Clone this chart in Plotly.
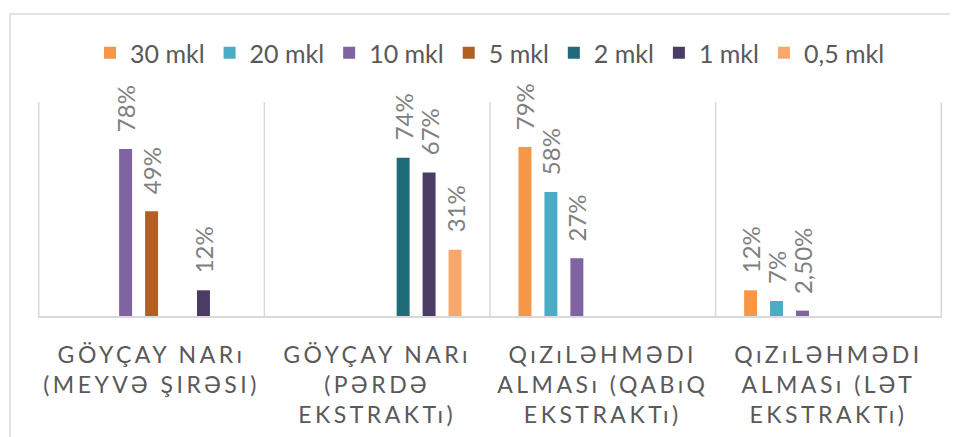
import plotly.graph_objects as go

categories = ["cat1", "cat2", "cat3", "cat4"]
tick_labels = [
    ["GÖYÇAY NARı", "(MEYVƏ ŞIRƏSI)"],
    ["GÖYÇAY NARı", "(PƏRDƏ", "EKSTRAKTı)"],
    ["QıZıLƏHMƏDI", "ALMASı (QABıQ", "EKSTRAKTı)"],
    ["QıZıLƏHMƏDI", "ALMASı (LƏT", "EKSTRAKTı)"],
]
series_names = ["30 mkl", "20 mkl", "10 mkl", "5 mkl", "2 mkl", "1 mkl", "0,5 mkl"]
s30 = [None, None, 0.79, 0.12]
s20 = [None, None, 0.58, 0.07]
s10 = [0.78, None, 0.27, 0.025]
s5 = [0.49, None, None, None]
s2 = [None, 0.74, None, None]
s1 = [0.12, 0.67, None, None]
s05 = [None, 0.31, None, None]
label_30 = [None, None, "79%", "12%"]
label_20 = [None, None, "58%", "7%"]
label_10 = ["78%", None, "27%", "2,50%"]
label_5 = ["49%", None, None, None]
label_2 = [None, "74%", None, None]
label_1 = ["12%", "67%", None, None]
label_05 = [None, "31%", None, None]

values = [s30, s20, s10, s5, s2, s1, s05]
labels = [label_30, label_20, label_10, label_5, label_2, label_1, label_05]
colors = ["#F79646", "#4BACC6", "#8064A2", "#B35E24", "#206B78", "#4A3C64", "#F9A86D"]

FONT = "Lato, 'Open Sans', sans-serif"

# layout geometry (style); page body has an 8px margin
PAGE_OFF = 8
W, H = 958 - PAGE_OFF, 437 - PAGE_OFF
ML, MR, MT = 38 - PAGE_OFF, 16, 102 - PAGE_OFF
PLOT_H = 214
MB = H - MT - PLOT_H
PLOT_W = W - ML - MR
BARGAP = 0.195
n_series = len(series_names)
cat_px = PLOT_W / len(categories)
slot_px = cat_px * (1 - BARGAP) / n_series

fig = go.Figure()
annotations = []
for i, (name, vals, labs, col) in enumerate(zip(series_names, values, labels, colors)):
    fig.add_trace(go.Bar(
        x=categories, y=vals, name=name, marker=dict(color=col, line=dict(width=0)),
        hoverinfo="skip",
    ))
    for c, v, t in zip(categories, vals, labs):
        if v is None or t is None:
            continue
        annotations.append(dict(
            x=c, y=v, xref="x", yref="y", text=t, showarrow=False,
            textangle=-90, xanchor="center", yanchor="bottom",
            xshift=(i - (n_series - 1) / 2) * slot_px, yshift=15,
            font=dict(family=FONT, size=24, color="#7F7F7F"),
        ))

ticktext = [
    "<br>".join('<span style="letter-spacing:3.5px">%s</span>' % line for line in lines)
    for lines in tick_labels
]

shapes = []
for b in [-0.5, 0.5, 1.5, 2.5, 3.5]:
    shapes.append(dict(type="line", xref="x", yref="paper", x0=b, x1=b, y0=0, y1=1,
                       line=dict(color="#D9D9D9", width=1.5), layer="below"))
# outer chart-area border (starts at page x=10, y=14)
shapes.append(dict(type="rect", xref="paper", yref="paper",
                   x0=(10 - PAGE_OFF - ML) / PLOT_W, x1=(W + 4 - ML) / PLOT_W,
                   y0=-1.0, y1=(MT + PLOT_H - (14 - PAGE_OFF)) / PLOT_H,
                   line=dict(color="#D9D9D9", width=1.5), fillcolor="rgba(0,0,0,0)",
                   layer="below"))

fig.update_layout(
    width=W, height=H,
    margin=dict(l=ML, r=MR, t=MT, b=MB, autoexpand=False),
    paper_bgcolor="white", plot_bgcolor="white",
    barmode="group", bargap=BARGAP, bargroupgap=0.5,
    showlegend=True,
    legend=dict(orientation="h", x=0.5, xanchor="center",
                y=(MT + PLOT_H - (53 - PAGE_OFF)) / PLOT_H, yanchor="middle",
                font=dict(family=FONT, size=25, color="#595959"),
                itemclick=False, traceorder="normal"),
    xaxis=dict(tickmode="array", tickvals=categories, ticktext=ticktext,
               showgrid=False, showline=True, linecolor="#D9D9D9", linewidth=1.5,
               ticks="", ticklabelstandoff=18, automargin=False,
               tickfont=dict(family=FONT, size=23, color="#595959"),
               fixedrange=True),
    yaxis=dict(range=[0, 1], visible=False, showgrid=False, zeroline=False,
               fixedrange=True, automargin=False),
    shapes=shapes,
    annotations=annotations,
    font=dict(family=FONT),
)

fig.write_html("out.html")
